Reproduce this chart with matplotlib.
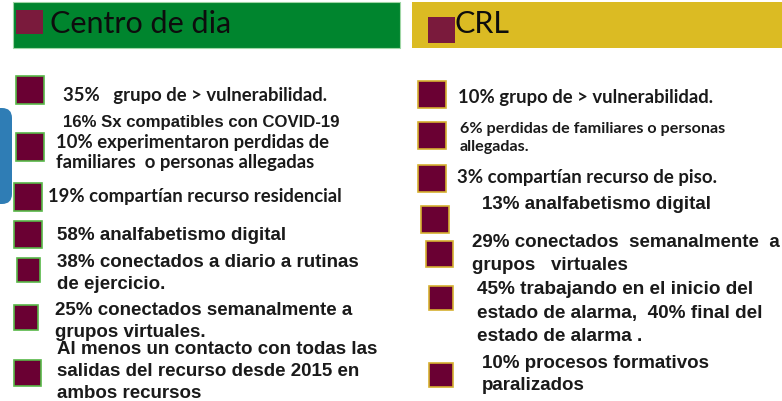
import matplotlib.pyplot as plt
from matplotlib.patches import Rectangle, FancyBboxPatch

# --- content ---
titles = ['Centro de dia', 'CRL']

left_items = [
    '35%   grupo de > vulnerabilidad.',
    '16% Sx compatibles con COVID-19',
    '10% experimentaron perdidas de\nfamiliares  o personas allegadas',
    '19% compartían recurso residencial',
    '58% analfabetismo digital',
    '38% conectados a diario a rutinas\nde ejercicio.',
    '25% conectados semanalmente a\ngrupos virtuales.',
    'Al menos un contacto con todas las\nsalidas del recurso desde 2015 en\nambos recursos',
]
right_items = [
    '10% grupo de > vulnerabilidad.',
    '6% perdidas de familiares o personas\nallegadas.',
    '3% compartían recurso de piso.',
    '13% analfabetismo digital',
    '29% conectados  semanalmente  a\ngrupos   virtuales',
    '45% trabajando en el inicio del\nestado de alarma,  40% final del\nestado de alarma .',
    '10% procesos formativos\nparalizados',
]

# --- layout (pixels, y down) ---
CAL = 'Lato'
ARI = 'Liberation Sans'
# (x, y of first line centre, line gap, font, size)
left_text_pos = [(63, 96, 0, CAL, 13.3), (63, 123, 0, ARI, 12.1),
                 (56, 143, 20, CAL, 13.3), (48, 197, 0, CAL, 13.3),
                 (57, 236, 0, ARI, 13.5), (57, 263, 22, ARI, 13.5),
                 (55, 311, 22, ARI, 13.5), (57, 350, 22, ARI, 13.5)]
right_text_pos = [(458, 97, 0, CAL, 13.3), (460, 129, 18, CAL, 11.6),
                  (457, 178, 0, CAL, 13.4), (482, 205, 0, ARI, 13.5),
                  (472, 243, 23, ARI, 13.5), (477, 290, 23.5, ARI, 13.7),
                  (482, 364, 22, ARI, 13.5)]
# square boxes (x, y, w, h)
left_boxes = [(16, 77, 28, 28), (16, 134, 28, 28), (14, 184, 28, 28),
              (14, 222, 28, 27), (17, 259, 23, 24), (14, 306, 24, 25),
              (14, 361, 27, 26)]
right_boxes = [(418, 82, 28, 27), (418, 123, 28, 27), (418, 166, 28, 27),
               (421, 207, 28, 27), (426, 242, 27, 26), (429, 287, 24, 24),
               (429, 364, 24, 24)]

maroon = '#6a0033'
fig = plt.figure(figsize=(7.82, 4.02), dpi=100)
ax = fig.add_axes([0, 0, 1, 1])
ax.set_xlim(0, 782)
ax.set_ylim(402, 0)
ax.axis('off')

# headers
ax.add_patch(Rectangle((13, 3), 387, 46, facecolor='#00852e', edgecolor='#9fd6a5', lw=0.8))
ax.add_patch(Rectangle((16, 11), 27, 24, facecolor='#7a1a3c', edgecolor='none'))
ax.text(50, 24, titles[0], fontsize=22, family='Lato', va='center', color='#0d0d0d')
ax.add_patch(Rectangle((412, 3), 370, 46, facecolor='#dbbb23', edgecolor='none'))
ax.add_patch(Rectangle((428, 18), 27, 26, facecolor='#7a1a3c', edgecolor='none'))
ax.text(455, 24, titles[1], fontsize=22, family='Lato', va='center', color='#0d0d0d')

# blue shape on the left edge
ax.add_patch(FancyBboxPatch((-20, 109), 32, 96, boxstyle='round,pad=0,rounding_size=10',
                            facecolor='#2f7db5', edgecolor='none'))

for (x, y, w, h) in left_boxes:
    ax.add_patch(Rectangle((x, y), w, h, facecolor=maroon, edgecolor='#58b848', lw=1.2))
for (x, y, w, h) in right_boxes:
    ax.add_patch(Rectangle((x, y), w, h, facecolor=maroon, edgecolor='#d6b030', lw=1.2))


def draw_items(items, positions):
    for txt, (x, y, gap, fam, fs) in zip(items, positions):
        for i, line in enumerate(txt.split('\n')):
            ax.text(x, y + i * gap, line, fontsize=fs, family=fam, weight='bold',
                    va='center', ha='left', color='#1a1a1a')


draw_items(left_items, left_text_pos)
draw_items(right_items, right_text_pos)

fig.savefig('out.png', dpi=100, facecolor='white')
